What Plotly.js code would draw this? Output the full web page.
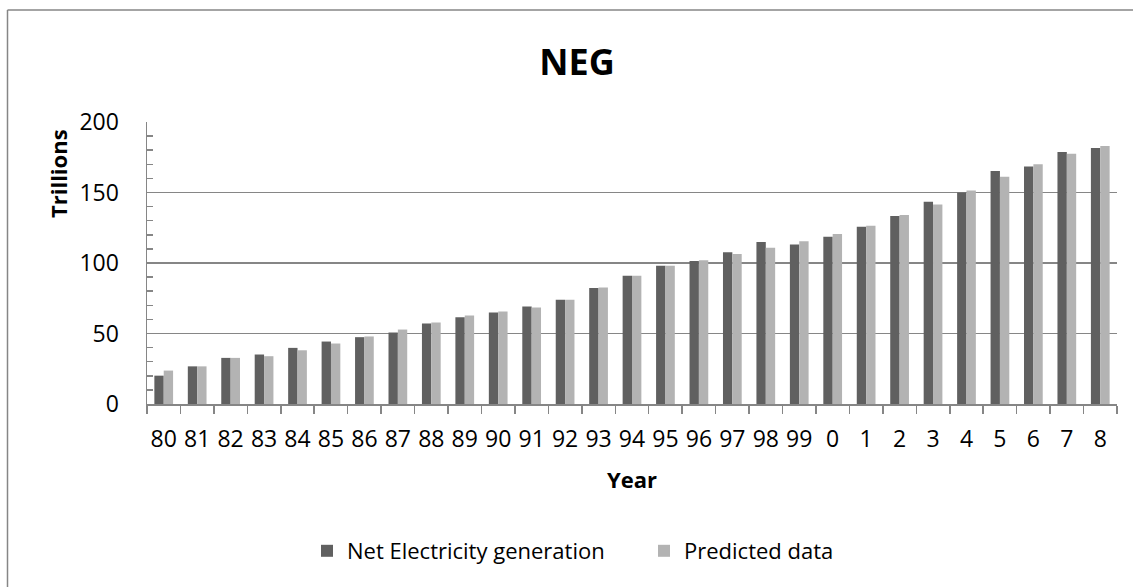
<!DOCTYPE html>
<html>
<head>
<meta charset="utf-8">
<script src="https://cdn.plot.ly/plotly-3.0.1.min.js"></script>
<style>
  html, body { margin: 0; padding: 0; background: #ffffff; }
  #chart { width: 1133px; height: 587px; }
</style>
</head>
<body>
<div id="chart"></div>
<script>
// Year labels (two-digit, 1980 through 2008)
const years = ["80","81","82","83","84","85","86","87","88","89",
               "90","91","92","93","94","95","96","97","98","99",
               "0","1","2","3","4","5","6","7","8"];

// Net electricity generation, trillions
const netGeneration = [20.1, 26.7, 32.7, 35.1, 39.8, 44.3, 47.4, 50.7, 57.1, 61.6,
                       64.9, 69.2, 74.0, 82.2, 91.0, 98.1, 101.4, 107.6, 114.9, 113.1,
                       118.7, 125.7, 133.3, 143.4, 150.0, 165.2, 168.4, 178.7, 181.5];

// Model output for the same years, trillions
const predicted = [23.7, 26.7, 32.7, 33.9, 38.1, 42.9, 47.9, 52.8, 57.8, 62.8,
                   65.6, 68.5, 74.0, 82.7, 91.0, 98.1, 101.9, 106.4, 110.9, 115.4,
                   120.6, 126.5, 134.0, 141.5, 151.4, 161.1, 170.1, 177.4, 182.9];

const yTicks = [0, 50, 100, 150, 200];

const FONT = "Open Sans, Noto Sans, sans-serif";
const GRID = "#868686";

const traces = [
  {
    type: "bar",
    name: "Net Electricity generation",
    x: years,
    y: netGeneration,
    marker: { color: "#606060" },
    legend: "legend",
    hoverinfo: "x+y"
  },
  {
    type: "bar",
    name: "Predicted data",
    x: years,
    y: predicted,
    marker: { color: "#b3b3b3" },
    legend: "legend2",
    hoverinfo: "x+y"
  }
];

// plot area: x 147..1117, y 122..404 (pixels)
const L = 147, R = 1117, T = 122, B = 404;
const px = v => (v - L) / (R - L);
const py = v => (B - v) / (B - T);

const layout = {
  width: 1133,
  height: 587,
  margin: { l: L, r: 1133 - R, t: T, b: 587 - B, pad: 0 },
  paper_bgcolor: "#ffffff",
  plot_bgcolor: "#ffffff",
  font: { family: FONT, color: "#000000", size: 22 },
  barmode: "group",
  bargap: 0.44,
  bargroupgap: 0,
  title: {
    text: "NEG",
    font: { family: FONT, size: 36, weight: 700, color: "#000000" },
    xref: "container", x: 577 / 1133, xanchor: "center",
    yref: "container", y: 1 - 62 / 587, yanchor: "middle"
  },
  xaxis: {
    type: "category",
    categoryorder: "array",
    categoryarray: years,
    showline: true,
    linecolor: GRID,
    linewidth: 1.5,
    ticks: "outside",
    tickson: "boundaries",
    ticklen: 8,
    tickcolor: GRID,
    tickwidth: 1.5,
    showgrid: false,
    tickangle: 0,
    tickfont: { family: FONT, size: 23, color: "#000000" },
    ticklabelstandoff: 14,
    title: {
      text: "Year",
      font: { family: FONT, size: 22, weight: 700, color: "#000000" },
      standoff: 19
    },
    automargin: false,
    fixedrange: true
  },
  yaxis: {
    range: [0, 200],
    tickvals: yTicks,
    ticktext: yTicks.map(String),
    showline: true,
    linecolor: GRID,
    linewidth: 1.5,
    showgrid: true,
    gridcolor: GRID,
    gridwidth: 1.7,
    zeroline: false,
    ticks: "inside",
    ticklen: 6,
    tickcolor: GRID,
    tickwidth: 1.5,
    minor: { dtick: 10, ticks: "inside", ticklen: 6, tickcolor: GRID, tickwidth: 1.5, showgrid: false },
    tickfont: { family: FONT, size: 23, color: "#000000" },
    ticklabelstandoff: 22,
    automargin: false,
    fixedrange: true
  },
  legend: {
    orientation: "h",
    x: px(307), xanchor: "left",
    y: py(551), yanchor: "middle",
    font: { family: FONT, size: 22, color: "#000000" },
    bgcolor: "rgba(0,0,0,0)"
  },
  legend2: {
    orientation: "h",
    x: px(644), xanchor: "left",
    y: py(551), yanchor: "middle",
    font: { family: FONT, size: 22, color: "#000000" },
    bgcolor: "rgba(0,0,0,0)"
  },
  annotations: [
    {
      text: "Trillions",
      xref: "paper", yref: "paper",
      x: px(58), y: py(174),
      xanchor: "center", yanchor: "middle",
      textangle: -90,
      showarrow: false,
      font: { family: FONT, size: 22, weight: 700, color: "#000000" }
    }
  ],
  shapes: [
    // chart frame: left and top edges
    { type: "line", xref: "paper", yref: "paper",
      x0: px(7.5), x1: px(7.5), y0: py(10), y1: py(700),
      line: { color: GRID, width: 1.5 } },
    { type: "line", xref: "paper", yref: "paper",
      x0: px(7.5), x1: px(1200), y0: py(10), y1: py(10),
      line: { color: GRID, width: 1.5 } }
  ],
  showlegend: true
};

Plotly.newPlot("chart", traces, layout, { displayModeBar: false, staticPlot: true });
</script>
</body>
</html>
